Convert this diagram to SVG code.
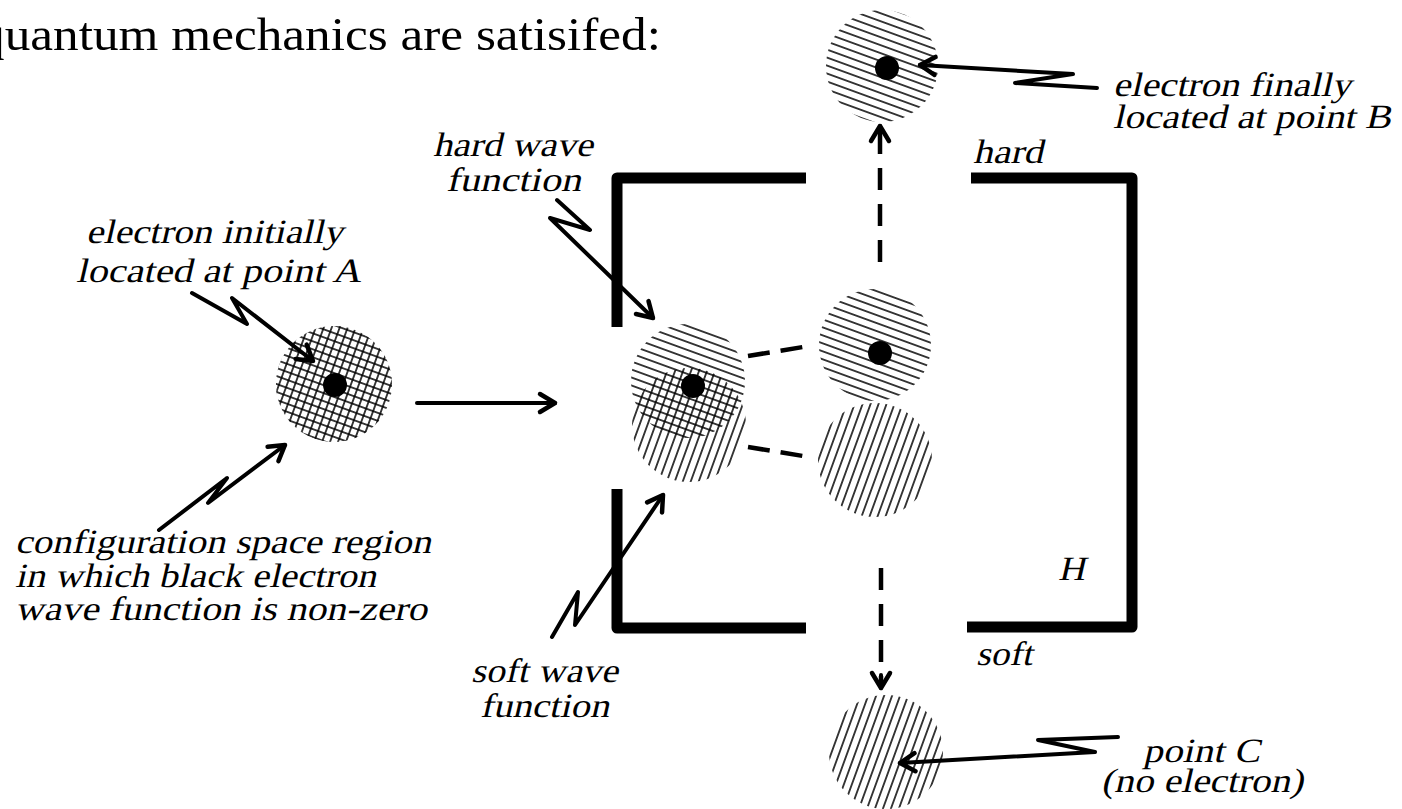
<svg xmlns="http://www.w3.org/2000/svg" width="1402" height="809" viewBox="0 0 1402 809">
<style>
text{font-family:"Liberation Serif","Times New Roman",serif;fill:#000}
.lbl{font-size:34px;font-style:normal}
.title{font-size:47px}
.conn{fill:none;stroke:#000;stroke-width:4;stroke-linejoin:round;stroke-linecap:round}
.dash{fill:none;stroke:#000;stroke-width:4.5;stroke-dasharray:22 14}
.sdash{fill:none;stroke:#000;stroke-width:4.5;stroke-dasharray:22 11}
.box{fill:none;stroke:#000;stroke-width:11;stroke-linejoin:round}
.dot{fill:#000}
</style>
<defs>
<pattern id="hard" width="7.5" height="7.5" patternUnits="userSpaceOnUse" patternTransform="rotate(20)">
<line x1="0" y1="3.75" x2="7.5" y2="3.75" stroke="#000" stroke-width="1.5"/>
</pattern>
<pattern id="soft" width="7.5" height="7.5" patternUnits="userSpaceOnUse" patternTransform="rotate(20)">
<line x1="3.75" y1="0" x2="3.75" y2="7.5" stroke="#000" stroke-width="1.5"/>
</pattern>
<marker id="head" markerUnits="userSpaceOnUse" markerWidth="40" markerHeight="40" refX="0" refY="0" viewBox="-20 -20 40 40" orient="auto" overflow="visible">
<path d="M-15,-9 L0,0 L-15,9" fill="none" stroke="#000" stroke-width="4.5" stroke-linecap="round" stroke-linejoin="round"/>
</marker>
</defs>

<g id="title">
<text class="title" x="-21" y="50" textLength="682" lengthAdjust="spacingAndGlyphs">quantum mechanics are satisifed:</text>
</g>

<g id="box">
<path class="box" d="M806,178 H617 V327"/>
<path class="box" d="M617,489 V628 H806"/>
<path class="box" d="M971,178 H1132 V627 H967"/>
</g>

<g id="circle-A">
<circle cx="334" cy="384" r="58" fill="url(#hard)"/>
<circle cx="334" cy="384" r="58" fill="url(#soft)"/>
<circle class="dot" cx="335" cy="385" r="12"/>
</g>

<g id="superposition">
<circle cx="688" cy="381" r="57" fill="url(#hard)"/>
<circle cx="689" cy="425" r="57" fill="url(#soft)"/>
<circle class="dot" cx="693" cy="386" r="12"/>
</g>

<g id="hard-branch">
<circle cx="875" cy="345" r="56" fill="url(#hard)"/>
<circle class="dot" cx="880" cy="353" r="12"/>
</g>

<g id="soft-branch">
<circle cx="875" cy="460" r="57" fill="url(#soft)"/>
</g>

<g id="circle-B">
<circle cx="882" cy="66" r="56" fill="url(#hard)"/>
<circle class="dot" cx="887" cy="68" r="12"/>
</g>

<g id="circle-C">
<circle cx="886" cy="752" r="57" fill="url(#soft)"/>
</g>

<g id="connectors">
<path class="conn" d="M417,403 L555,403" marker-end="url(#head)"/>
<path class="conn" d="M192,293 L247,324 L232,298 L313,361" marker-end="url(#head)"/>
<path class="conn" d="M159,530 L227,478 L208,503 L285,445" marker-end="url(#head)"/>
<path class="conn" d="M557,200 L590,230 L550,218 L653,318" marker-end="url(#head)"/>
<path class="conn" d="M552,637 L578,592 L575,625 L663,495" marker-end="url(#head)"/>
<path class="conn" d="M1097,88 L1015,83 L1073,74 L920,65" marker-end="url(#head)"/>
<path class="conn" d="M1118,737 L1038,740 L1095,752 L900,763" marker-end="url(#head)"/>
<path class="sdash" d="M748,356 L803,347"/>
<path class="sdash" d="M748,447 L803,456"/>
<path class="dash" d="M880,262 L880,127"/>
<path class="conn" d="M880,140 L880,126" marker-end="url(#head)"/>
<path class="dash" d="M881,568 L881,687"/>
<path class="conn" d="M881,675 L881,688" marker-end="url(#head)"/>
</g>

<g id="labels">
<text class="lbl" transform="translate(433,156) skewX(-13)" textLength="160" lengthAdjust="spacingAndGlyphs">hard wave</text>
<text class="lbl" transform="translate(446,191) skewX(-13)" textLength="135" lengthAdjust="spacingAndGlyphs">function</text>
<text class="lbl" transform="translate(86,243) skewX(-13)" textLength="257" lengthAdjust="spacingAndGlyphs">electron initially</text>
<text class="lbl" transform="translate(76,282) skewX(-13)" textLength="285" lengthAdjust="spacingAndGlyphs">located at point A</text>
<text class="lbl" transform="translate(15,553) skewX(-13)" textLength="416" lengthAdjust="spacingAndGlyphs">configuration space region</text>
<text class="lbl" transform="translate(15,587) skewX(-13)" textLength="361" lengthAdjust="spacingAndGlyphs">in which black electron</text>
<text class="lbl" transform="translate(15,620) skewX(-13)" textLength="412" lengthAdjust="spacingAndGlyphs">wave function is non-zero</text>
<text class="lbl" transform="translate(471,682) skewX(-13)" textLength="147" lengthAdjust="spacingAndGlyphs">soft wave</text>
<text class="lbl" transform="translate(480,717) skewX(-13)" textLength="129" lengthAdjust="spacingAndGlyphs">function</text>
<text class="lbl" transform="translate(973,163) skewX(-13)" textLength="70" lengthAdjust="spacingAndGlyphs">hard</text>
<text class="lbl" transform="translate(976,665) skewX(-13)" textLength="56" lengthAdjust="spacingAndGlyphs">soft</text>
<text class="lbl" transform="translate(1058,580) skewX(-13)" textLength="27" lengthAdjust="spacingAndGlyphs">H</text>
<text class="lbl" transform="translate(1113,96) skewX(-13)" textLength="238" lengthAdjust="spacingAndGlyphs">electron finally</text>
<text class="lbl" transform="translate(1113,128) skewX(-13)" textLength="278" lengthAdjust="spacingAndGlyphs">located at point B</text>
<text class="lbl" transform="translate(1143,762) skewX(-13)" textLength="117" lengthAdjust="spacingAndGlyphs">point C</text>
<text class="lbl" transform="translate(1101,792) skewX(-13)" textLength="202" lengthAdjust="spacingAndGlyphs">(no electron)</text>
</g>
</svg>
